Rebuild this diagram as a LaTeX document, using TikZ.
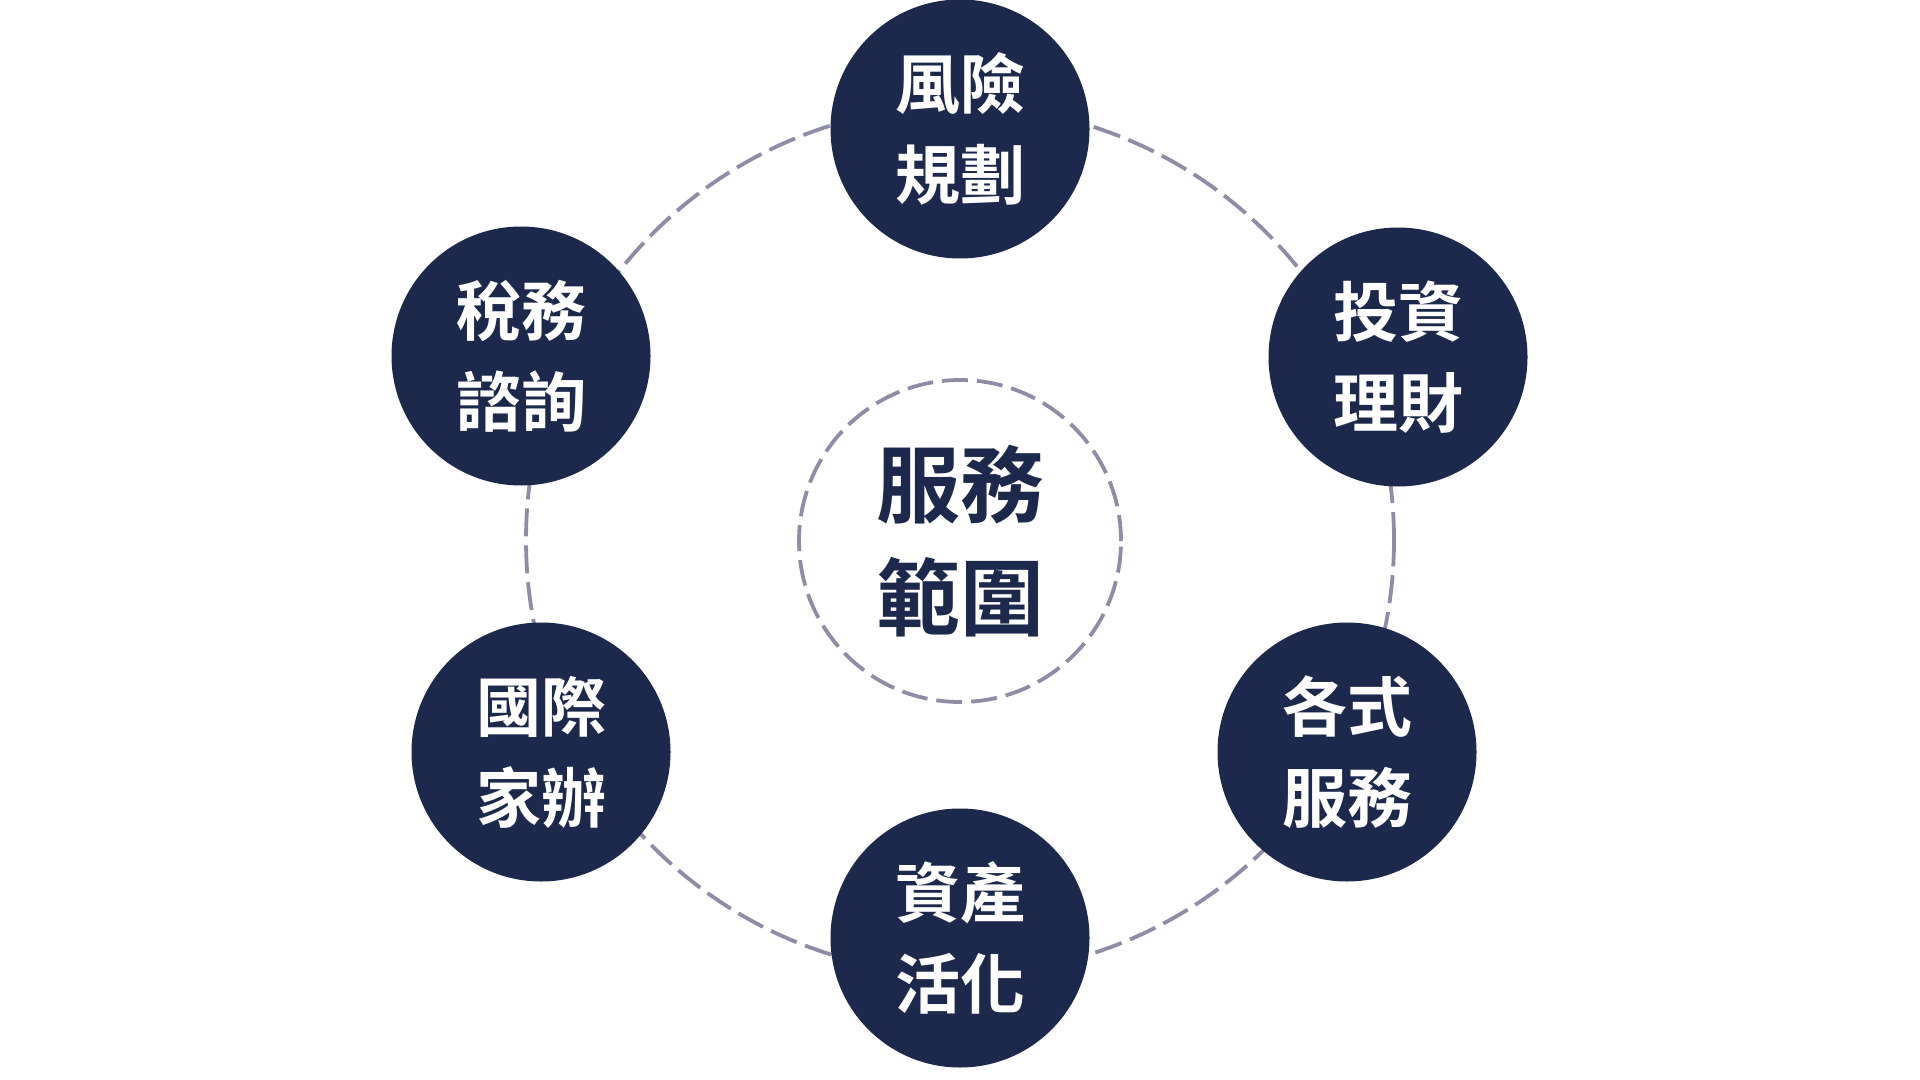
\documentclass[tikz,border=0pt]{standalone}
\usepackage{fontspec}
\newfontfamily\cjk{Noto Sans CJK TC}[BoldFont={Noto Sans CJK TC Bold}]
\definecolor{navy}{HTML}{1C294D}
\definecolor{dashgray}{HTML}{8E8DA5}
\tikzset{
  svc/.style={circle, fill=navy, minimum size=129.5pt, inner sep=0pt, text=white,
    align=center, font=\cjk\bfseries\fontsize{32.5}{45.5}\selectfont},
  hub/.style={circle, draw=dashgray, line width=1.9pt, dash pattern=on 13pt off 4.5pt,
    minimum size=161pt, inner sep=0pt, text=navy, align=center,
    font=\cjk\bfseries\fontsize{42}{56.5}\selectfont},
  ringc/.style={circle, draw=dashgray, line width=1.9pt, dash pattern=on 14pt off 4.5pt,
    minimum size=434pt, inner sep=0pt}
}
\begin{document}
\begin{tikzpicture}[x=0.5pt,y=-0.5pt]
\path[use as bounding box] (0,0) rectangle (1920,1080);
\node[ringc] (ring) at (960,540) {};
\node[hub] (hub) at (960,541) {服務\\範圍};
\node[svc] (risk) at (960,129) {風險\\規劃};
\node[svc] (invest) at (1398,357) {投資\\理財};
\node[svc] (tax) at (521,356) {稅務\\諮詢};
\node[svc] (family) at (541,752) {國際\\家辦};
\node[svc] (other) at (1347,752) {各式\\服務};
\node[svc] (asset) at (960,938) {資產\\活化};
\end{tikzpicture}
\end{document}
